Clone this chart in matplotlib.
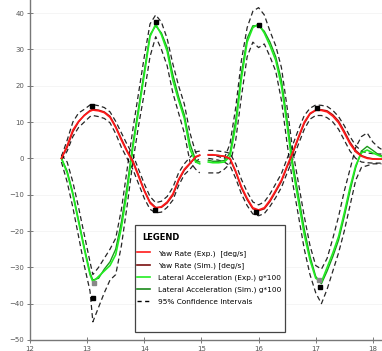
import numpy as np
import matplotlib.pyplot as plt
from matplotlib.lines import Line2D
from matplotlib.patches import Rectangle

# --- time base (two segments, gap around t=15) ---
t_a = [12.55, 12.65, 12.75, 12.85, 12.95, 13.05, 13.1, 13.2, 13.3, 13.4, 13.5, 13.6, 13.7,
       13.8, 13.9, 14.0, 14.1, 14.2, 14.3, 14.4, 14.5, 14.6, 14.7, 14.8, 14.9, 14.97]
t_b = [15.12, 15.2, 15.3, 15.4, 15.5, 15.6, 15.7, 15.8, 15.9, 16.0, 16.1, 16.2, 16.3, 16.4,
       16.5, 16.6, 16.7, 16.8, 16.9, 17.0, 17.1, 17.2, 17.3, 17.4, 17.5, 17.6, 17.7, 17.8,
       17.9, 18.0, 18.1, 18.15]

# yaw rate [deg/s]
yaw_exp_a = [0, 3.5, 7.8, 10.2, 11.8, 13.0, 13.3, 13.1, 12.6, 11.3, 8.5, 5.0, 1.8,
             -1.0, -5.0, -9.0, -12.3, -13.7, -13.3, -12.0, -9.8, -5.8, -3.0, -1.3, 0.5, 0.9]
yaw_exp_b = [1.0, 1.0, 0.8, 0.6, 0.0, -3.5, -7.8, -11.0, -13.6, -14.2, -13.6, -11.5, -8.8, -6.0,
             -2.0, 1.8, 6.0, 10.0, 12.4, 13.3, 13.2, 12.8, 11.6, 9.8, 7.0, 4.0, 1.8, 0.6,
             0.0, -0.2, -0.2, -0.2]
yaw_sim_a = [0, 3.0, 7.3, 10.0, 11.9, 13.2, 13.5, 13.3, 12.8, 11.6, 8.8, 5.4, 2.1,
             -0.6, -4.6, -8.7, -12.0, -13.5, -13.5, -12.3, -10.2, -6.2, -3.3, -1.5, 0.3, 0.8]
yaw_sim_b = [0.9, 0.9, 0.8, 0.5, -0.2, -3.8, -8.2, -11.4, -13.9, -14.4, -13.9, -11.9, -9.2, -6.4,
             -2.4, 1.4, 5.6, 9.6, 12.2, 13.2, 13.4, 13.1, 12.0, 10.3, 7.5, 4.5, 2.2, 0.8,
             0.2, -0.1, -0.2, -0.2]
yaw_up_a = [0.5, 5, 10, 12.5, 13.5, 14.7, 14.8, 14.5, 14, 12.8, 10.2, 7, 3.8,
            1, -3, -7, -10.5, -12.2, -11.8, -10.5, -8, -4, -1.5, 0.3, 1.8, 2]
yaw_lo_a = [-0.5, 2, 6, 8.5, 10, 11.5, 11.8, 11.5, 11, 9.8, 6.8, 3, 0,
            -3, -7, -11, -14, -15, -14.8, -13.5, -11.5, -7.5, -4.5, -3, -1, 0]
yaw_up_b = [2.2, 2.2, 2.0, 1.8, 1.4, -1.5, -5.8, -9.2, -12, -12.8, -12, -9.8, -7, -4.2,
            0, 3.8, 8, 11.8, 13.8, 14.7, 14.6, 14.3, 13.2, 11.5, 9, 6, 3.5, 2,
            1.5, 1.3, 1.2, 1.2]
yaw_lo_b = [0, -0.2, -0.5, -1, -2, -5.5, -9.8, -13, -15.3, -15.8, -15.2, -13.2, -10.8, -8,
            -4, -0.2, 4, 8, 10.8, 11.8, 11.8, 11.2, 10, 8, 5, 2, 0, -1,
            -1.2, -1.3, -1.3, -1.3]

# lateral acceleration g*100
lat_exp_a = [0, -4, -10, -17.5, -25, -32, -34, -32.5, -31, -29.5, -26.5, -19, -9,
             3, 13, 23, 33.5, 37, 34, 29.5, 21.5, 16, 11, 2.5, -1, -1.5]
lat_exp_b = [-1, -1.2, -1.2, -1, 0.5, 9, 22, 32, 36, 37, 34.5, 31, 27, 20,
             9, -3, -12, -21, -28, -33, -34, -30, -26, -21.5, -15, -8, -2, 1.5,
             2.3, 1.5, 0.8, 0.5]
lat_sim_a = [0, -3.5, -9.5, -17, -24.5, -31.5, -33.5, -33, -30.5, -28.5, -25, -17.5, -7.5,
             4, 14, 24, 34, 36.5, 34.5, 30.5, 23, 17, 12, 4, -0.5, -1]
lat_sim_b = [-0.5, -0.8, -0.8, -0.6, 1.5, 10.5, 23.5, 33, 36.5, 36.5, 35, 32, 28, 21.5,
             10.5, -1.5, -10.5, -19.5, -27, -32.5, -34.5, -31, -27, -22.5, -16, -9, -2.5, 2,
             3.3, 2.2, 1, 0.7]
lat_up_a = [1, -1, -6.5, -13.5, -21, -28.5, -32, -30, -27.5, -25, -22, -14, -3,
            8, 18, 28, 37, 39.5, 37.5, 33, 26, 20, 15, 7, 1.5, 1]
lat_lo_a = [-1, -6.5, -13.5, -21.5, -29.5, -36.5, -45, -41, -37, -33.5, -32, -24, -13,
            -1, 9, 18, 28, 33.5, 30, 25.5, 18, 12.5, 7, -1, -3, -4]
lat_up_b = [1, 1, 0.5, 0, 4, 14, 27, 36, 40.5, 41.5, 39.5, 35, 31, 25,
            14, 2, -7, -16, -24, -29.5, -30.5, -27.5, -22, -16, -9, -3, 3, 6,
            7, 4.5, 3, 2.5]
lat_lo_b = [-4, -4, -4, -3, -1.5, 5, 17, 28, 32, 30.5, 31.5, 28, 24, 16,
            4, -7, -16, -25, -32, -37, -40, -36, -31, -26, -20, -13, -6, -2.5,
            -2, -1.5, -1.5, -1.5]

# peak markers
peak_t = [13.1, 14.2, 16.0, 17.08, 13.08, 14.18, 15.95, 17.02]
peak_v = [-38.5, 37.5, 36.7, -35.4, 14.3, -14.2, -14.8, 13.8]
sim_peak_t = [13.12, 17.05]
sim_peak_v = [-34.3, -33.5]

labels = ["Yaw Rate (Exp.)  [deg/s]", "Yaw Rate (Sim.) [deg/s]",
          "Lateral Acceleration (Exp.) g*100", "Lateral Acceleration (Sim.) g*100",
          "95% Confidence Intervals"]


def join(a, b):
    return np.array(a + [np.nan] + b, dtype=float)


t = join(t_a, t_b)

fig = plt.figure(figsize=(3.82, 3.51), dpi=100)
ax = fig.add_axes([30 / 382, 11 / 351, 352 / 382, 340 / 351])

dash = dict(color='black', lw=0.9, dashes=(4, 2.5), alpha=0.85)
for up, lo in [(join(yaw_up_a, yaw_up_b), join(yaw_lo_a, yaw_lo_b)),
               (join(lat_up_a, lat_up_b), join(lat_lo_a, lat_lo_b))]:
    ax.plot(t, up, **dash, zorder=2)
    ax.plot(t, lo, **dash, zorder=2)

ax.plot(t, join(lat_sim_a, lat_sim_b), color='#1a9a1a', lw=1.0, zorder=3)
ax.plot(t, join(lat_exp_a, lat_exp_b), color='#22ee22', lw=1.2, zorder=3)
ax.plot(t, join(yaw_sim_a, yaw_sim_b), color='#b01010', lw=1.0, zorder=3)
ax.plot(t, join(yaw_exp_a, yaw_exp_b), color='#ff1a1a', lw=1.2, zorder=3)

ax.plot(peak_t, peak_v, 's', color='black', ms=3, zorder=4)
ax.plot(sim_peak_t, sim_peak_v, 's', color='#888888', ms=3, zorder=4)

ax.set_xlim(12, 18.16)
ax.set_ylim(-50, 43.6)
ax.set_xticks(range(12, 19))
ax.set_yticks(range(-50, 41, 10))
ax.tick_params(direction='inout', length=4, width=0.6, colors='#666666',
               labelsize=5, labelcolor='#555555', pad=2)
for s in ['top', 'right']:
    ax.spines[s].set_visible(False)
for s in ['left', 'bottom']:
    ax.spines[s].set_color('#777777')
    ax.spines[s].set_linewidth(1.0)
ax.grid(axis='y', color='#f2f2f2', lw=0.5)
ax.set_axisbelow(True)

# legend box
ax.add_patch(Rectangle((0.298, 0.0235), 0.426, 0.315, transform=ax.transAxes,
                       facecolor='white', edgecolor='#444444', lw=0.9, zorder=5))
ax.text(0.318, 0.315, "LEGEND", transform=ax.transAxes, fontsize=6, fontweight='bold',
        va='top', ha='left', zorder=7)
handles = [Line2D([], [], color='#ff1a1a', lw=1.2),
           Line2D([], [], color='#7a1010', lw=1.2),
           Line2D([], [], color='#22ee22', lw=1.2),
           Line2D([], [], color='#1a8a1a', lw=1.2),
           Line2D([], [], color='black', lw=1.0, dashes=(3, 2.5))]
leg = ax.legend(handles, labels, loc='upper left', bbox_to_anchor=(0.3, 0.27),
                frameon=False, fontsize=5.3, handlelength=1.8, handletextpad=1.0,
                labelspacing=0.75, borderaxespad=0, borderpad=0.2)
leg.set_zorder(7)

fig.savefig('out.png', dpi=100)
